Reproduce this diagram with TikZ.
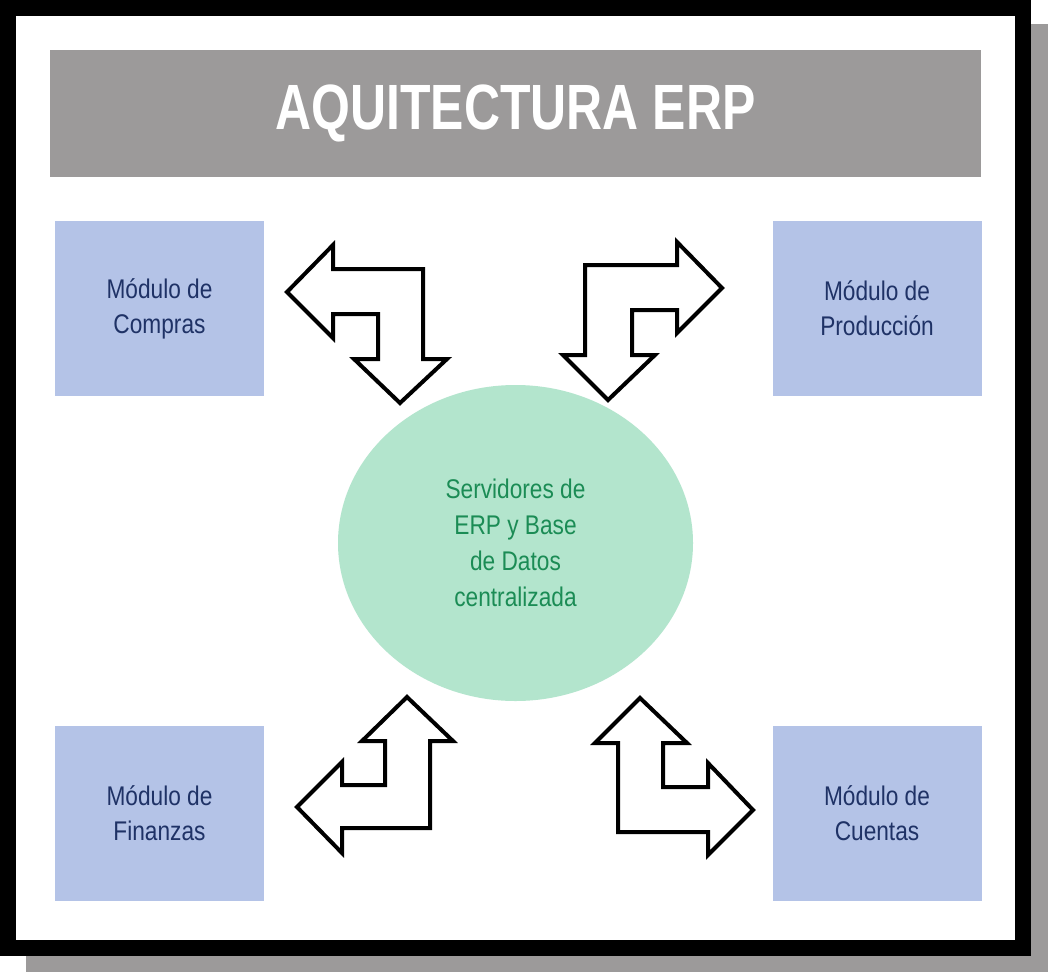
\documentclass[tikz,border=0pt]{standalone}
\usepackage{fontspec}
\setmainfont{Liberation Sans}[FakeStretch=0.84]
\newfontfamily\titlefont{Liberation Sans}[FakeStretch=0.78]
\usepackage{tikz}
\usetikzlibrary{shapes,arrows}
\definecolor{titlegray}{HTML}{9C9A9A}
\definecolor{modblue}{HTML}{B4C3E7}
\definecolor{modtext}{HTML}{1F3266}
\definecolor{servgreen}{HTML}{B3E5CD}
\definecolor{servtext}{HTML}{1B8C55}

\begin{document}
\begin{tikzpicture}[x=1pt,y=-1pt,
    modulo/.style={fill=modblue,text=modtext,minimum width=209pt,minimum height=175pt,
        align=center,inner sep=0pt,font=\fontsize{27}{35}\selectfont},
    servidor/.style={ellipse,fill=servgreen,text=servtext,minimum width=355pt,minimum height=316pt,
        align=center,inner sep=0pt,font=\fontsize{27}{36}\selectfont},
    flecha/.style={draw=black,fill=white,line width=4pt,line join=miter}]
        \useasboundingbox (0,0) rectangle (1048,972);
        % marco con sombra
        \fill[titlegray] (26,24) rectangle (1048,972);
        \fill[black] (0,0) rectangle (1031,956);
        \fill[white] (16,16) rectangle (1015,940);
        % titulo
        \node[fill=titlegray,text=white,minimum width=931pt,minimum height=127pt,inner sep=0pt,
            font=\titlefont\bfseries\fontsize{64}{64}\selectfont] (titulo) at (515.5,113.5) {AQUITECTURA ERP};
        % modulos
        \node[modulo] (compras) at (159.5,308.5) {Módulo de\\Compras};
        \node[modulo] (produccion) at (877,308.5) {Módulo de\\Producción};
        \node[modulo] (finanzas) at (159.5,813.5) {Módulo de\\Finanzas};
        \node[modulo] (cuentas) at (877,813.5) {Módulo de\\Cuentas};
        % servidor central
        \node[servidor] (servidor) at (515.5,543) {Servidores de\\ERP y Base\\de Datos\\centralizada};
        % flechas
        \draw[flecha] (287,292) -- (333,245) -- (333,269) -- (423,269) -- (423,359) -- (447,359)
            -- (400,403) -- (354,359) -- (378,359) -- (378,314) -- (333,314) -- (333,338) -- cycle;
        \draw[flecha] (722,288) -- (677,242) -- (677,265) -- (585,265) -- (585,355) -- (563,355)
            -- (608,400) -- (655,355) -- (632,355) -- (632,310) -- (677,310) -- (677,333) -- cycle;
        \draw[flecha] (407,697) -- (453,741) -- (430,741) -- (430,828) -- (342,828) -- (342,853)
            -- (297,807) -- (342,762) -- (342,785) -- (385,785) -- (385,741) -- (362,741) -- cycle;
        \draw[flecha] (640,698) -- (595,743) -- (618,743) -- (618,832) -- (708,832) -- (708,855)
            -- (753,810) -- (708,763) -- (708,787) -- (663,787) -- (663,743) -- (687,743) -- cycle;
    \end{tikzpicture}
\end{document}
